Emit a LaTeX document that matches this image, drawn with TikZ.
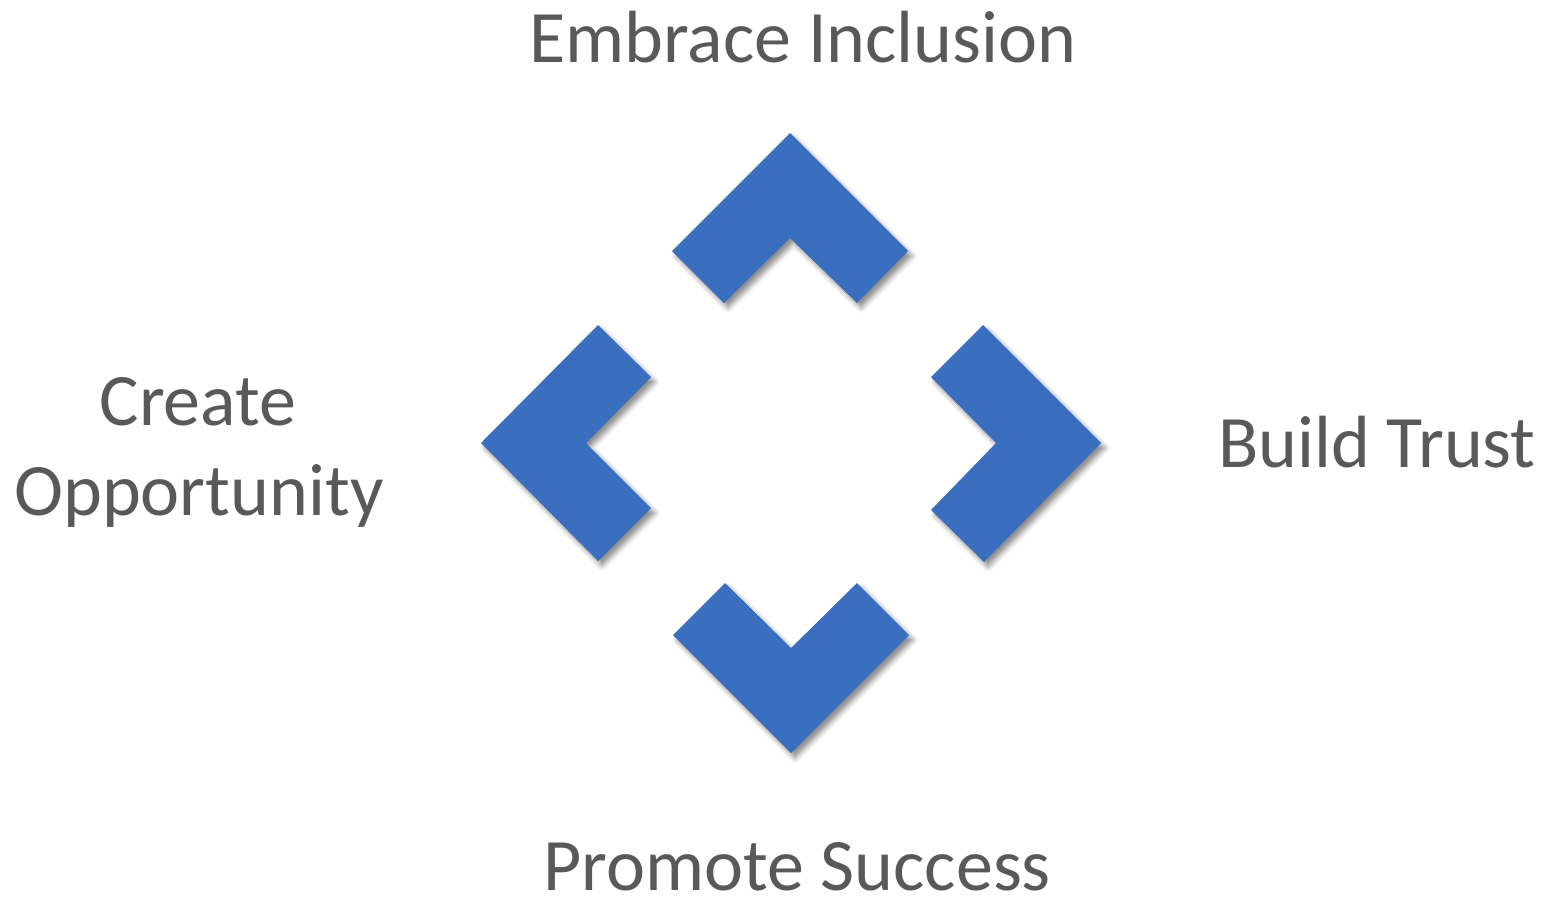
\documentclass[tikz,border=0pt]{standalone}
\usepackage{fontspec}
\setmainfont{Carlito}
\usetikzlibrary{shadows.blur}
\definecolor{chevblue}{HTML}{3A6EBE}
\definecolor{labelgray}{HTML}{595959}
\tikzset{
  chevron/.style={fill=chevblue, draw=none,
    blur shadow={shadow xshift=2pt, shadow yshift=-2.5pt,
                 shadow blur radius=2.5pt, shadow opacity=45}},
  label/.style={text=labelgray, font=\fontsize{37}{45}\selectfont,
                inner sep=0pt, anchor=base},
}
\begin{document}
\begin{tikzpicture}[x=0.5pt, y=-0.5pt]
  \useasboundingbox (0,0) rectangle (1547,896);
  % four chevrons around the centre
  \path[chevron] (672,251) -- (790,133) -- (908,251) -- (857,303)
                 -- (790,238) -- (724,303) -- cycle;
  \path[chevron] (598,325) -- (651,377) -- (586,443) -- (651,508)
                 -- (598,561) -- (481,443) -- cycle;
  \path[chevron] (983,325) -- (1101,443) -- (984,562) -- (931,510)
                 -- (996,443) -- (931,377) -- cycle;
  \path[chevron] (673,635) -- (725,583) -- (791,648) -- (857,583)
                 -- (909,635) -- (791,753) -- cycle;
  % labels
  \node[label] (top)    at (803,62)  {Embrace Inclusion};
  \node[label] (right)  at (1377,467) {Build Trust};
  \node[label] (left1)  at (198,425) {Create};
  \node[label] (left2)  at (199,515) {Opportunity};
  \node[label] (bottom) at (797,890) {Promote Success};
\end{tikzpicture}
\end{document}
